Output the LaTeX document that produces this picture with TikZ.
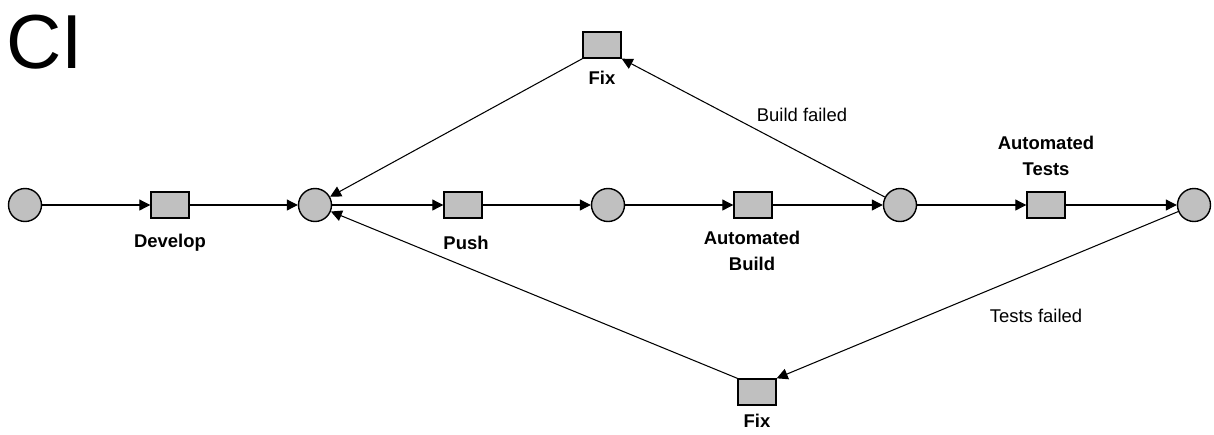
\documentclass[tikz,border=0pt]{standalone}
\usepackage{fontspec}
\setmainfont{Liberation Sans}
\usetikzlibrary{arrows.meta}
\definecolor{tokgray}{HTML}{C0C0C0}
\tikzset{
  place/.style={circle, draw=black, fill=tokgray, line width=0.8pt, minimum size=0.66cm, inner sep=0pt},
  trans/.style={rectangle, draw=black, fill=tokgray, line width=0.8pt, minimum width=0.76cm, minimum height=0.52cm, inner sep=0pt},
  lbl/.style={font=\fontsize{10.5}{14.7}\selectfont\bfseries, align=center, inner sep=0pt},
  elbl/.style={font=\fontsize{10.5}{14.7}\selectfont, inner sep=0pt},
  arc/.style={line width=0.6pt, -{Triangle[length=2.2mm, width=2.2mm]}},
}
\begin{document}
\begin{tikzpicture}[x=0.02cm, y=-0.02cm]
\useasboundingbox (0,0) rectangle (1214,434);
\node[anchor=base west, inner sep=0pt, font=\fontsize{43.6}{50}\selectfont] (ci) at (6,68) {CI};

\node[place] (p1) at (25,205) {};
\node[place] (p2) at (315,205) {};
\node[place] (p3) at (608,205) {};
\node[place] (p4) at (900,205) {};
\node[place] (p5) at (1194,205) {};

\node[trans] (dev) at (170,205) {};
\node[trans] (push) at (463,205) {};
\node[trans] (build) at (753,205) {};
\node[trans] (tests) at (1046,205) {};
\node[trans] (fixT) at (602,45) {};
\node[trans] (fixB) at (757,392) {};

\node[lbl] (ldev) at (170,243) {Develop};
\node[lbl] (lpush) at (466,243) {Push};
\node[lbl] (lbuild) at (752,251) {Automated\\Build};
\node[lbl] (ltests) at (1046,156) {Automated\\Tests};
\node[lbl] (lfixT) at (602,78) {Fix};
\node[lbl] (lfixB) at (757,421) {Fix};
\node[elbl] (lbf) at (802,115) {Build failed};
\node[elbl] (ltf) at (1036,316) {Tests failed};

\draw[arc] (p1) -- (dev);
\draw[arc] (dev) -- (p2);
\draw[arc] (p2) -- (push);
\draw[arc] (push) -- (p3);
\draw[arc] (p3) -- (build);
\draw[arc] (build) -- (p4);
\draw[arc] (p4) -- (tests);
\draw[arc] (tests) -- (p5);
\draw[arc] (p4) -- (fixT.south east);
\draw[arc] (fixT.south west) -- (p2);
\draw[arc] (p5) -- (fixB.north east);
\draw[arc] (fixB.north west) -- (p2);
\end{tikzpicture}
\end{document}
